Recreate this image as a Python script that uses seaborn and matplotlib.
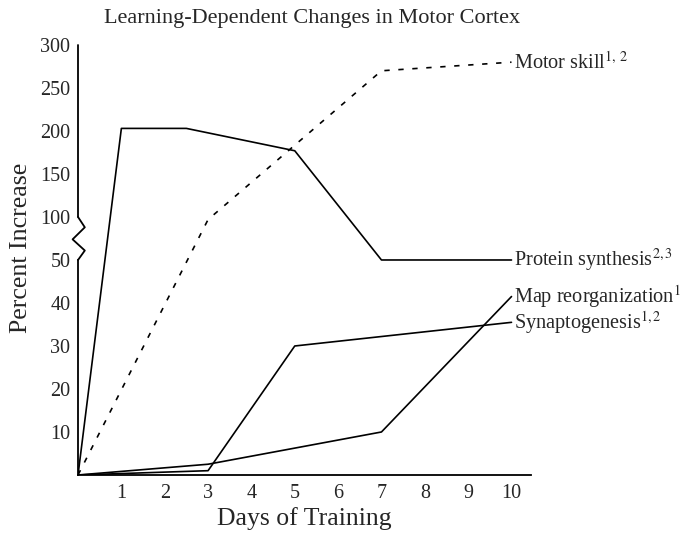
import numpy as np
import pandas as pd
import seaborn as sns
import matplotlib.pyplot as plt

# data
motor_days = [0, 3, 7, 10]
motor_vals = [0, 97, 270, 280]
protein_days = [0, 1, 2.5, 5, 7, 10]
protein_vals = [0, 203, 203, 177, 50, 50]
map_days = [0, 3, 7, 10]
map_vals = [0, 2.5, 10, 41.5]
synapse_days = [0, 3, 5, 10]
synapse_vals = [0, 1, 30, 35.5]

series_labels = [r'Motor skill$^{1,\,2}$', r'Protein synthesis$^{2,3}$',
                 r'Map reorganization$^{1}$', r'Synaptogenesis$^{1,2}$']
x_ticks = [1, 2, 3, 4, 5, 6, 7, 8, 9, 10]
y_ticks = [10, 20, 30, 40, 50, 100, 150, 200, 250, 300]

sns.set_theme(style='white')
plt.rcParams['font.family'] = ['Liberation Serif', 'DejaVu Serif']
plt.rcParams['mathtext.fontset'] = 'stix'


# broken y axis: 0-50 in steps of 10, 50-300 in steps of 50, same spacing
def fwd(v):
    v = np.asarray(v, dtype=float)
    return np.where(v <= 50, v / 10.0, 5 + (v - 50) / 50.0)


def inv(u):
    u = np.asarray(u, dtype=float)
    return np.where(u <= 5, u * 10.0, 50 + (u - 5) * 50.0)


fig = plt.figure(figsize=(6.82, 5.4), dpi=100)
ax = fig.add_axes([0.1144, 0.1204, 0.6642, 0.7963])
ax.set_yscale('function', functions=(fwd, inv))

lw = 1.2
sns.lineplot(x=motor_days, y=motor_vals, ax=ax, color='black', lw=lw,
             linestyle=(0, (3.2, 5.2)))
sns.lineplot(x=protein_days, y=protein_vals, ax=ax, color='black', lw=lw)
sns.lineplot(x=map_days, y=map_vals, ax=ax, color='black', lw=lw)
sns.lineplot(x=synapse_days, y=synapse_vals, ax=ax, color='black', lw=lw)

ends = [motor_vals[-1], protein_vals[-1], map_vals[-1], synapse_vals[-1]]
for lab, yv in zip(series_labels, ends):
    ax.annotate(lab, xy=(10, yv), xytext=(2, 0), textcoords='offset points',
                va='center', ha='left', fontsize=14.6, annotation_clip=False)

ax.set_xlim(0, 10.45)
ax.set_ylim(0, 300)
ax.set_xticks(x_ticks)
ax.set_xticklabels([str(t) for t in x_ticks])
ax.set_yticks(y_ticks)
ax.set_yticklabels([str(t) for t in y_ticks])
ax.minorticks_off()
ax.tick_params(axis='both', direction='inout', length=9, width=1.3,
               labelsize=14.5, color='black', pad=2)
ax.tick_params(axis='y', pad=1)

for s in ['top', 'right']:
    ax.spines[s].set_visible(False)
ax.spines['left'].set_bounds(0, 50)
ax.spines['bottom'].set_linewidth(1.3)
ax.spines['left'].set_linewidth(1.3)
ax.spines['left'].set_color('black')
ax.spines['bottom'].set_color('black')

# upper piece of the axis and the zigzag break
tr = ax.get_yaxis_transform()
ax.plot([0, 0], [100, 300], color='black', lw=1.3, transform=tr, clip_on=False)
zx = [0, 0.015, -0.012, 0.015, 0]
zy = [100, 88, 74, 61, 50]
ax.plot(zx, zy, color='black', lw=1.3, transform=tr, clip_on=False)

ax.set_xlabel('Days of Training', fontsize=18.5, labelpad=3)
ax.set_ylabel('Percent Increase', fontsize=18.6)
ax.yaxis.set_label_coords(-0.102, 0.528)
fig.text(0.458, 0.966, 'Learning-Dependent Changes in Motor Cortex',
         ha='center', va='center', fontsize=16)

fig.savefig('out.png', dpi=100)
